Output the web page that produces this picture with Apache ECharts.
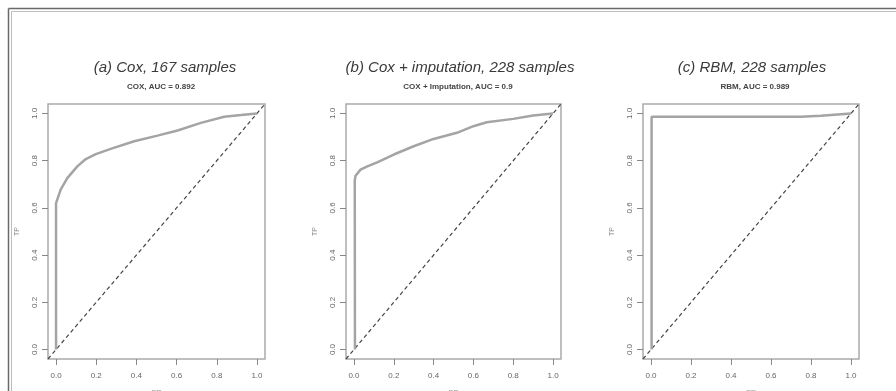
<!DOCTYPE html>
<html>
<head>
<meta charset="utf-8">
<script src="https://cdn.jsdelivr.net/npm/echarts@6/dist/echarts.min.js"></script>
<style>
  html, body { margin: 0; padding: 0; background: #fff; }
  #main { width: 896px; height: 391px; }
</style>
</head>
<body>
<div id="main"></div>
<script>
// ROC curves (FP rate, TP rate)
var fpA = [0, 0, 0.023, 0.056, 0.106, 0.148, 0.198, 0.272, 0.389, 0.505, 0.605, 0.721, 0.837, 0.92, 1];
var tpA = [0, 0.62, 0.677, 0.726, 0.776, 0.807, 0.828, 0.85, 0.882, 0.906, 0.928, 0.96, 0.986, 0.993, 1];
var fpB = [0.005, 0.004, 0.008, 0.033, 0.067, 0.117, 0.2, 0.3, 0.4, 0.517, 0.6, 0.667, 0.8, 0.9, 1];
var tpB = [0, 0.716, 0.736, 0.762, 0.776, 0.793, 0.826, 0.861, 0.892, 0.918, 0.946, 0.963, 0.977, 0.991, 1];
var fpC = [0.003, 0.003, 0.5, 0.75, 0.85, 1];
var tpC = [0, 0.986, 0.986, 0.986, 0.99, 1];
var diag = [-0.04, 1.04];
var tickValues = [0, 0.2, 0.4, 0.6, 0.8, 1.0];

var titles = ['(a) Cox, 167 samples', '(b) Cox + imputation, 228 samples', '(c) RBM, 228 samples'];
var subtitles = ['COX, AUC = 0.892', 'COX + Imputation, AUC = 0.9', 'RBM, AUC = 0.989'];

var chart = echarts.init(document.getElementById('main'));

function pairs(xs, ys) {
  return xs.map(function (x, i) { return [x, ys[i]]; });
}

var grids = [
  {left: 48, top: 104, width: 217, height: 255},
  {left: 346, top: 104, width: 215, height: 255},
  {left: 643, top: 104, width: 216, height: 255}
];
var titleX = [160, 455, 747];
var subX = [156, 453, 750];
var curves = [pairs(fpA, tpA), pairs(fpB, tpB), pairs(fpC, tpC)];

var option = {
  animation: false,
  backgroundColor: '#fff',
  title: [],
  grid: [],
  xAxis: [],
  yAxis: [],
  series: [],
  graphic: [
    // outer frame of the figure
    {type: 'line', shape: {x1: 8.5, y1: 8.5, x2: 896, y2: 8.5}, style: {stroke: '#6a6a6a', lineWidth: 1.5}},
    {type: 'line', shape: {x1: 8.5, y1: 8.5, x2: 8.5, y2: 391}, style: {stroke: '#6a6a6a', lineWidth: 1.5}},
    {type: 'line', shape: {x1: 11.5, y1: 11.5, x2: 896, y2: 11.5}, style: {stroke: '#bdbdbd', lineWidth: 1}},
    {type: 'line', shape: {x1: 11.5, y1: 11.5, x2: 11.5, y2: 391}, style: {stroke: '#bdbdbd', lineWidth: 1}}
  ]
};

for (var i = 0; i < 3; i++) {
  option.title.push({
    text: titles[i], left: titleX[i], top: 55, textAlign: 'center',
    textStyle: {fontFamily: 'Liberation Sans, Arial', fontStyle: 'italic',
      fontWeight: 'normal', fontSize: 15, color: '#3a3a3a'}
  });
  option.title.push({
    text: subtitles[i], left: subX[i], top: 78, textAlign: 'center',
    textStyle: {fontFamily: 'Liberation Sans, Arial', fontWeight: 'bold', fontSize: 8, color: '#444'}
  });
  option.grid.push(Object.assign({show: true, outerBoundsMode: 'none', containLabel: false,
    borderColor: '#ababab', borderWidth: 1.5, backgroundColor: '#fff'}, grids[i]));
  option.xAxis.push({
    type: 'value', gridIndex: i, min: -0.04, max: 1.04,
    name: 'FP', nameLocation: 'middle', nameGap: 30,
    nameTextStyle: {fontSize: 8, color: '#999'},
    axisLine: {show: false, onZero: false},
    splitLine: {show: false},
    axisTick: {show: true, length: 6, customValues: tickValues, lineStyle: {color: '#888', width: 1}},
    axisLabel: {customValues: tickValues, fontSize: 8, color: '#666', margin: 13,
      formatter: function (v) { return v.toFixed(1); }}
  });
  option.yAxis.push({
    type: 'value', gridIndex: i, min: -0.04, max: 1.04,
    name: 'TP', nameLocation: 'middle', nameGap: 27, nameRotate: 90,
    nameTextStyle: {fontSize: 7, color: '#888'},
    axisLine: {show: false, onZero: false},
    splitLine: {show: false},
    axisTick: {show: true, length: 6, customValues: tickValues, lineStyle: {color: '#888', width: 1}},
    axisLabel: {customValues: tickValues, fontSize: 8, color: '#666', margin: 9, rotate: 90,
      formatter: function (v) { return v.toFixed(1); }}
  });
  option.series.push({
    type: 'line', xAxisIndex: i, yAxisIndex: i, data: pairs(diag, diag),
    symbol: 'none', silent: true,
    lineStyle: {color: '#444', width: 1.2, type: [4, 3]}
  });
  option.series.push({
    type: 'line', xAxisIndex: i, yAxisIndex: i, data: curves[i],
    symbol: 'none', smooth: false,
    lineStyle: {color: '#a4a4a4', width: 2.5}
  });
}

chart.setOption(option);
</script>
</body>
</html>
